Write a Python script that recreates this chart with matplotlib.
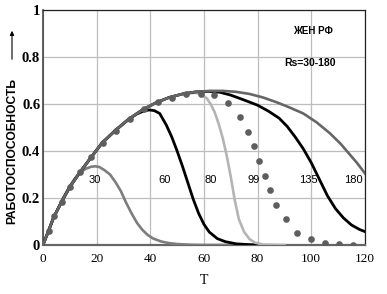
import numpy as np
import matplotlib.pyplot as plt

# ---------------------------------------------------------------- #
# data (T, workability)

t_30 = [0, 2, 4, 6, 8, 10, 12, 14, 16, 18, 19.5, 21, 23, 25, 27, 29, 31, 33,
        35, 37, 39, 41, 44, 47, 50, 55, 60, 70, 80]
v_30 = [0, 0.058, 0.115, 0.165, 0.21, 0.25, 0.285, 0.31, 0.325, 0.333, 0.335,
        0.332, 0.318, 0.3, 0.268, 0.23, 0.18, 0.135, 0.095, 0.065, 0.043, 0.028,
        0.015, 0.008, 0.004, 0.001, 0, 0, 0]

t_60 = [0, 2, 4, 7, 10, 14, 18, 22, 27, 32, 35, 37.5, 39.5, 41.5, 43.5, 46,
        48, 50, 52, 54, 56, 58, 60, 62, 65, 68, 72, 76, 80]
v_60 = [0, 0.058, 0.118, 0.185, 0.247, 0.313, 0.374, 0.434, 0.488, 0.536,
        0.558, 0.57, 0.575, 0.572, 0.56, 0.51, 0.46, 0.4, 0.335, 0.265, 0.195,
        0.135, 0.088, 0.055, 0.027, 0.014, 0.005, 0.002, 0]

t_80 = [0, 2, 4, 7, 10, 14, 18, 22, 27, 32, 37, 42, 47, 52, 57, 59, 61, 62.5,
        64, 65.5, 67, 68.5, 70, 71.5, 73, 75, 77, 79, 82, 90]
v_80 = [0, 0.058, 0.118, 0.185, 0.247, 0.313, 0.374, 0.434, 0.488, 0.536,
        0.575, 0.605, 0.628, 0.643, 0.648, 0.64, 0.625, 0.6, 0.565, 0.515,
        0.455, 0.38, 0.29, 0.19, 0.11, 0.055, 0.025, 0.01, 0.002, 0]

t_99 = [2.2, 4.2, 7, 10, 13.8, 17.8, 22.2, 27.2, 32.4, 37.6, 43, 48, 53.3,
        58.8, 63.8, 69, 73.4, 76.3, 78.8, 80.6, 82.9, 84.6, 87, 90.6, 94.8,
        99.9, 105.1, 110.3, 115.6]
v_99 = [0.061, 0.123, 0.184, 0.245, 0.312, 0.373, 0.435, 0.486, 0.536, 0.577,
        0.607, 0.627, 0.641, 0.642, 0.638, 0.605, 0.546, 0.482, 0.421, 0.359,
        0.295, 0.234, 0.172, 0.109, 0.052, 0.024, 0.007, 0.003, 0.0]

t_135 = [0, 2, 4, 7, 10, 14, 18, 22, 27, 32, 37, 42, 47, 52, 57, 62, 66, 70,
         75, 80, 84, 88, 91, 94, 97, 100, 103, 106, 109, 112, 115, 118, 120]
v_135 = [0, 0.058, 0.118, 0.185, 0.247, 0.313, 0.374, 0.434, 0.488, 0.536,
         0.575, 0.605, 0.628, 0.643, 0.652, 0.654, 0.65, 0.638, 0.617, 0.595,
         0.57, 0.54, 0.505, 0.46, 0.41, 0.35, 0.28, 0.21, 0.155, 0.115, 0.085,
         0.066, 0.057]

t_180 = [0, 2, 4, 7, 10, 14, 18, 22, 27, 32, 37, 42, 47, 52, 57, 62, 67, 72,
         77, 82, 87, 92, 97, 102, 107, 111, 114, 117, 120]
v_180 = [0, 0.058, 0.118, 0.185, 0.247, 0.313, 0.374, 0.434, 0.488, 0.536,
         0.575, 0.605, 0.628, 0.643, 0.652, 0.656, 0.656, 0.652, 0.643, 0.628,
         0.608, 0.585, 0.56, 0.522, 0.475, 0.43, 0.39, 0.35, 0.305]

curve_labels = ['30', '60', '80', '99', '135', '180']
label_t = [19.4, 45.2, 62.5, 78.4, 98.9, 115.7]
label_v = 0.277

# ---------------------------------------------------------------- #

fig = plt.figure(figsize = (3.87, 2.94), dpi = 100)
ax = fig.add_axes([0.111, 0.1667, 0.832, 0.799])

ax.plot(t_30, v_30, color = '#7d7d7d', lw = 1.9, zorder = 3)
ax.plot(t_60, v_60, color = 'black', lw = 2.0, zorder = 3)
ax.plot(t_80, v_80, color = '#b4b4b4', lw = 1.9, zorder = 3)
ax.plot(t_135, v_135, color = 'black', lw = 2.0, zorder = 4)
ax.plot(t_180, v_180, color = '#666666', lw = 1.9, zorder = 5)
ax.plot(t_99, v_99, 'o', color = '#5e5e5e', ms = 4.8, mew = 0, zorder = 6)

for lab, t in zip(curve_labels, label_t):
    ax.text(t, label_v, lab, ha = 'center', va = 'center',
            family = 'Liberation Sans', fontsize = 8)

ax.text(100.7, 0.91, 'ЖЕН РФ', ha = 'center', va = 'center',
        family = 'Liberation Sans', fontweight = 'bold', fontsize = 7)
ax.text(99.5, 0.773, 'Rs=30-180', ha = 'center', va = 'center',
        family = 'Liberation Sans', fontweight = 'bold', fontsize = 7.5)

ax.set_xlim(0, 120)
ax.set_ylim(0, 1)
ax.set_xticks([0, 20, 40, 60, 80, 100, 120])
ax.set_yticks([0, 0.2, 0.4, 0.6, 0.8, 1])
ax.set_yticklabels(['0', '0.2', '0.4', '0.6', '0.8', '1'],
                   family = 'Liberation Serif', fontweight = 'bold', fontsize = 10.5)
ax.set_xticklabels(['0', '20', '40', '60', '80', '100', '120'],
                   family = 'Liberation Serif', fontsize = 9.5)
ax.tick_params(axis = 'both', length = 0)
ax.tick_params(axis = 'x', pad = 6)
ax.tick_params(axis = 'y', pad = 2)
ax.grid(color = '#bdbdbd', lw = 0.9)
ax.set_axisbelow(True)

for side in ['top', 'right']:
    ax.spines[side].set_color('#222222')
    ax.spines[side].set_linewidth(0.9)
ax.spines['left'].set_color('#444444')
ax.spines['left'].set_linewidth(1.2)
ax.spines['bottom'].set_color('#666666')
ax.spines['bottom'].set_linewidth(1.6)

ax.set_xlabel('T', family = 'Liberation Serif', fontsize = 10, labelpad = 6)

fig.text(12 / 387, 1 - 151 / 294, 'РАБОТОСПОСОБНОСТЬ', rotation = 90,
         ha = 'center', va = 'center', family = 'Liberation Sans',
         fontweight = 'bold', fontsize = 8.7)
ax.annotate('', xy = (12, 294 - 28), xytext = (12, 294 - 62),
            xycoords = 'figure pixels', textcoords = 'figure pixels',
            arrowprops = dict(arrowstyle = '-|>', color = 'black', lw = 0.8,
                              mutation_scale = 6))

fig.savefig('out.png', dpi = 100)
